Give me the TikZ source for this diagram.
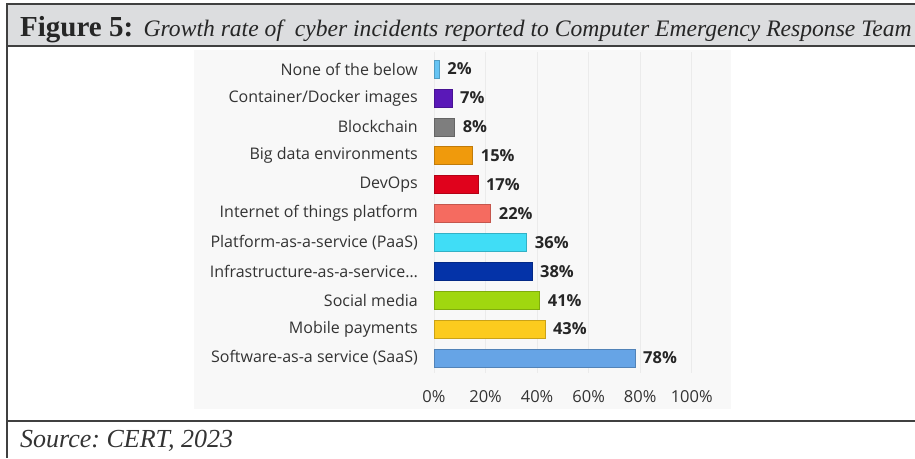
\documentclass[tikz,border=0pt]{standalone}
\usepackage{fontspec}
\setmainfont{Liberation Serif}
\newfontfamily\chartfont{Open Sans}
\usetikzlibrary{positioning,calc}
\definecolor{framegray}{HTML}{404040}
\definecolor{titlegray}{HTML}{DCDDDF}
\definecolor{panelgray}{HTML}{F8F8F8}
\definecolor{gridgray}{HTML}{EBEBEB}
\definecolor{labelgray}{HTML}{333333}
\definecolor{cNone}{HTML}{66C4F4}
\definecolor{cDocker}{HTML}{5A18B8}
\definecolor{cChain}{HTML}{7E7E7E}
\definecolor{cBigData}{HTML}{F09A0C}
\definecolor{cDevOps}{HTML}{E0021C}
\definecolor{cIoT}{HTML}{F56B60}
\definecolor{cPaaS}{HTML}{40DDF6}
\definecolor{cIaaS}{HTML}{0433A8}
\definecolor{cSocial}{HTML}{A0D70F}
\definecolor{cMobile}{HTML}{FCCB1E}
\definecolor{cSaaS}{HTML}{66A4E6}

\begin{document}
\frenchspacing
\begin{tikzpicture}[x=1pt,y=-1pt,
   barlabel/.style={anchor=east, text=labelgray, inner sep=0pt,
     font=\chartfont\fontsize{16}{18}\selectfont},
   barvalue/.style={anchor=west, text=black!85, inner sep=0pt,
     font=\chartfont\bfseries\fontsize{16.5}{18}\selectfont},
   ticklabel/.style={text=labelgray, inner sep=0pt,
     font=\chartfont\fontsize{16.5}{18}\selectfont},
   framerule/.style={framegray, line width=1.8pt}]
   \useasboundingbox (0,0) rectangle (915,458);
   % title bar and chart panel
   \fill[titlegray] (7,4) rectangle (915,46);
   \fill[panelgray] (194,50) rectangle (731,409);
   \foreach \p in {0,20,...,100}
     \draw[gridgray, line width=0.8pt] ({434+2.577*\p},52) -- ({434+2.577*\p},373);
   \draw[framerule] (915,4) -- (7,4) -- (7,458);
   \draw[framerule] (7,46) -- (915,46);
   \draw[framerule] (7,421) -- (915,421);

   \node[anchor=base west, inner sep=0pt, text=black!85,
     font=\fontsize{29}{30}\selectfont\bfseries] (fig) at (20,36) {Figure 5:};
   \node[anchor=base west, inner sep=0pt, text=black!85,
     font=\fontsize{23.6}{28}\selectfont\itshape] (title) at ([xshift=10pt]fig.base east)
   {Growth rate of\ \ cyber incidents reported to Computer Emergency Response Team};
   \node[anchor=base west, inner sep=0pt, text=labelgray] (source) at (20,447)
   {\fontsize{26}{28}\selectfont\itshape Source: CERT, 2023};

   % bars
   \foreach \lab/\val/\col [count=\i from 0] in {
      None of the below/2/cNone,
      {Container/Docker images}/7/cDocker,
      Blockchain/8/cChain,
      Big data environments/15/cBigData,
      DevOps/17/cDevOps,
      Internet of things platform/22/cIoT,
      Platform-as-a-service (PaaS)/36/cPaaS,
      Infrastructure-as-a-service\ldots/38/cIaaS,
      Social media/41/cSocial,
      Mobile payments/43/cMobile,
      Software-as-a service (SaaS)/78/cSaaS}
   {
     \pgfmathsetmacro{\yc}{69+28.9*\i}
     \pgfmathsetmacro{\xe}{434+2.577*\val}
     \node[barlabel] (lab\i) at (418,\yc) {\lab};
     \draw[fill=\col, draw=\col!80!black, line width=0.6pt] (434,\yc-9) rectangle (\xe,\yc+9);
     \coordinate (end\i) at (\xe,\yc);
     \node[barvalue, right=8pt of end\i] (val\i) {\val\%};
   }

   % axis ticks
   \foreach \p in {0,20,...,100}
     \node[ticklabel] (tick\p) at ({434+2.577*\p},397) {\p\%};
\end{tikzpicture}
\end{document}
